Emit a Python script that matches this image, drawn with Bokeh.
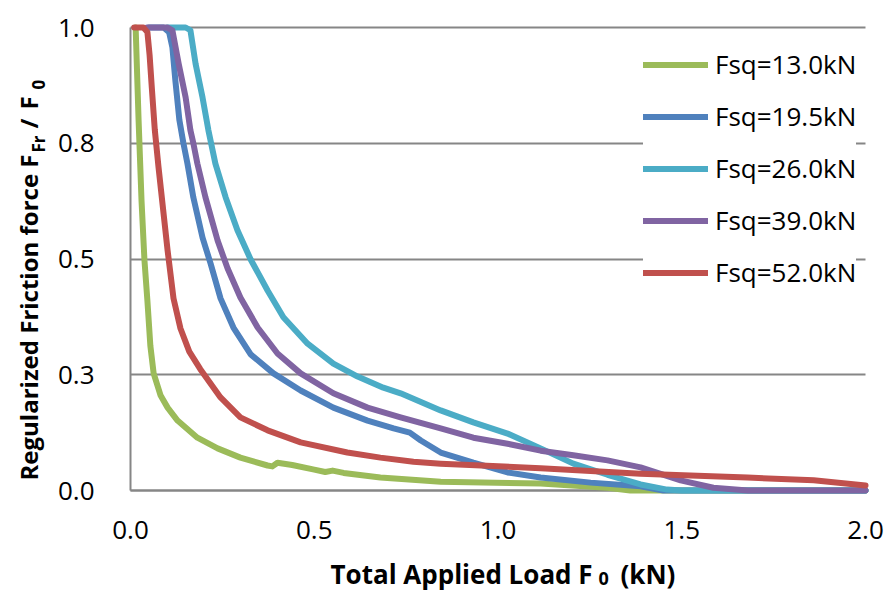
import math
from bokeh.plotting import figure
from bokeh.models import Range1d, FixedTicker, Label, Legend, LegendItem
from bokeh.embed import file_html
from bokeh.resources import INLINE

# ---------------- data ----------------
series_names = ["Fsq=13.0kN", "Fsq=19.5kN", "Fsq=26.0kN", "Fsq=39.0kN", "Fsq=52.0kN"]
series_colors = ["#9BBB59", "#4F81BD", "#4BACC6", "#8064A2", "#C0504D"]

green_x = [0.014, 0.022, 0.030, 0.038, 0.046, 0.054, 0.063, 0.082, 0.101, 0.128, 0.182,
           0.237, 0.299, 0.373, 0.386, 0.400, 0.440, 0.500, 0.530, 0.550, 0.580, 0.680,
           0.844, 1.116, 1.298, 1.360, 2.0]
green_y = [1.0, 0.80, 0.626, 0.497, 0.410, 0.313, 0.253, 0.205, 0.179, 0.151, 0.114,
           0.091, 0.071, 0.054, 0.052, 0.060, 0.055, 0.045, 0.040, 0.043, 0.038, 0.028,
           0.019, 0.015, 0.006, 0.0, 0.0]

blue_x = [0.050, 0.090, 0.105, 0.114, 0.122, 0.133, 0.144, 0.155, 0.171, 0.196, 0.218,
          0.245, 0.280, 0.327, 0.389, 0.463, 0.552, 0.645, 0.716, 0.760, 0.790, 0.844,
          0.933, 1.026, 1.116, 1.252, 1.388, 1.450, 2.0]
blue_y = [1.0, 1.0, 0.990, 0.957, 0.886, 0.800, 0.750, 0.706, 0.633, 0.546, 0.490,
          0.415, 0.352, 0.294, 0.253, 0.216, 0.179, 0.151, 0.134, 0.125, 0.108, 0.082,
          0.060, 0.039, 0.028, 0.017, 0.009, 0.0, 0.0]

cyan_x = [0.100, 0.150, 0.163, 0.177, 0.196, 0.212, 0.231, 0.259, 0.291, 0.327, 0.373,
          0.416, 0.482, 0.552, 0.618, 0.688, 0.735, 0.844, 0.933, 1.026, 1.116, 1.205,
          1.298, 1.388, 1.460, 1.500, 2.0]
cyan_y = [1.0, 1.0, 0.994, 0.922, 0.849, 0.778, 0.706, 0.633, 0.562, 0.499, 0.432,
          0.374, 0.317, 0.274, 0.246, 0.222, 0.210, 0.173, 0.147, 0.123, 0.091, 0.058,
          0.034, 0.013, 0.002, 0.0, 0.0]

purple_x = [0.045, 0.100, 0.114, 0.131, 0.150, 0.163, 0.171, 0.182, 0.204, 0.237, 0.264,
            0.299, 0.346, 0.400, 0.463, 0.552, 0.645, 0.735, 0.844, 0.933, 1.026, 1.116,
            1.205, 1.298, 1.388, 1.497, 1.586, 1.680, 2.0]
purple_y = [1.0, 1.0, 0.994, 0.922, 0.849, 0.778, 0.750, 0.706, 0.633, 0.540, 0.480,
            0.417, 0.352, 0.296, 0.253, 0.210, 0.179, 0.158, 0.134, 0.114, 0.101, 0.086,
            0.076, 0.065, 0.050, 0.022, 0.006, 0.0, 0.0]

red_x = [0.010, 0.035, 0.046, 0.052, 0.058, 0.066, 0.076, 0.090, 0.101, 0.117, 0.136,
         0.160, 0.190, 0.245, 0.299, 0.373, 0.463, 0.590, 0.680, 0.770, 0.844, 1.116,
         1.388, 1.679, 1.859, 2.0]
red_y = [1.0, 1.0, 0.990, 0.940, 0.870, 0.780, 0.700, 0.598, 0.518, 0.415, 0.350,
         0.300, 0.262, 0.201, 0.158, 0.130, 0.104, 0.082, 0.071, 0.062, 0.058, 0.048,
         0.036, 0.028, 0.022, 0.011]

series_x = [green_x, blue_x, cyan_x, purple_x, red_x]
series_y = [green_y, blue_y, cyan_y, purple_y, red_y]

x_ticks = [0.0, 0.5, 1.0, 1.5, 2.0]
x_tick_labels = ["0.0", "0.5", "1.0", "1.5", "2.0"]
y_ticks = [0.0, 0.25, 0.5, 0.75, 1.0]
y_tick_labels = ["0.0", "0.3", "0.5", "0.8", "1.0"]

# ---------------- layout constants (pixels) ----------------
W, H = 886, 590
LEFT, RIGHT, TOP, BOTTOM = 130, 865, 27, 490   # where the data area sits on the canvas
x_lo, x_hi = x_ticks[0], x_ticks[-1]
y_lo, y_hi = y_ticks[0], y_ticks[-1]
xs_per_px = (x_hi - x_lo) / (RIGHT - LEFT)
ys_per_px = (y_hi - y_lo) / (BOTTOM - TOP)

FONT = "Open Sans"
GRAY = "#868686"

# the frame spans the whole canvas; the axes are fixed at the data origin
p = figure(width=W, height=H, output_backend="svg", toolbar_location=None,
           x_range=Range1d(x_lo - LEFT * xs_per_px, x_hi + (W - RIGHT) * xs_per_px),
           y_range=Range1d(y_lo - (H - BOTTOM) * ys_per_px, y_hi + TOP * ys_per_px),
           min_border=0, min_border_left=0, min_border_right=0,
           min_border_top=0, min_border_bottom=0)
p.outline_line_color = None
p.background_fill_color = "white"
p.border_fill_color = "white"

p.xaxis.fixed_location = y_lo
p.yaxis.fixed_location = x_lo
p.xaxis.bounds = (x_lo, x_hi)
p.yaxis.bounds = (y_lo, y_hi)
p.xaxis.ticker = FixedTicker(ticks=x_ticks)
p.yaxis.ticker = FixedTicker(ticks=y_ticks)
p.xaxis.major_label_overrides = {t: l for t, l in zip(x_ticks, x_tick_labels)}
p.yaxis.major_label_overrides = {t: l for t, l in zip(y_ticks, y_tick_labels)}
for ax in (p.xaxis, p.yaxis):
    ax.axis_line_color = GRAY
    ax.axis_line_width = 2
    ax.major_tick_line_color = None
    ax.minor_tick_line_color = None
    ax.major_tick_out = 0
    ax.major_tick_in = 0
    ax.major_label_text_font = FONT
    ax.major_label_text_font_size = "26px"
    ax.major_label_text_color = "black"
    ax.level = "underlay"
p.xaxis.major_label_standoff = 30
p.yaxis.major_label_standoff = 36

p.xgrid.visible = False
ygrid = p.ygrid[0]
ygrid.ticker = FixedTicker(ticks=y_ticks)
ygrid.grid_line_color = GRAY
ygrid.grid_line_width = 2
ygrid.bounds = (y_lo, y_hi)
try:
    ygrid.cross_bounds = (x_lo, x_hi)
except Exception:
    ygrid.visible = False
    p.segment(x0=[x_lo] * len(y_ticks), x1=[x_hi] * len(y_ticks), y0=y_ticks, y1=y_ticks,
              line_color=GRAY, line_width=2, level="underlay")

# lines
items = []
for name, color, xs, ys in zip(series_names, series_colors, series_x, series_y):
    r = p.line(xs, ys, line_color=color, line_width=6, line_join="round", line_cap="round")
    items.append(LegendItem(label=name, renderers=[r]))

legend = Legend(items=items, location=(643, 300), padding=0, spacing=16,
                glyph_width=65, glyph_height=35, label_height=35, label_standoff=7,
                label_text_font=FONT, label_text_font_size="26px",
                label_text_color="black", background_fill_color="white",
                background_fill_alpha=1.0, border_line_color=None)
p.add_layout(legend)

# axis titles (with subscripts)
def px_to_x(px):
    return x_lo + (px - LEFT) * xs_per_px

def py_to_y(py):
    return y_lo + (BOTTOM - py) * ys_per_px

def add_label(text, px, py, size, angle=0.0):
    p.add_layout(Label(x=px_to_x(px), y=py_to_y(py), text=text, angle=angle,
                       text_font=FONT, text_font_size=size, text_font_style="bold",
                       text_color="black", text_align="left", text_baseline="alphabetic"))

add_label("Total Applied Load F", 330, 573, "26px")
add_label("0", 598, 578, "18px")
add_label("(kN)", 620, 573, "26px")

add_label("Regularized Friction force F", 28, 480, "24px", math.pi / 2)
add_label("Fr", 38, 152, "17px", math.pi / 2)
add_label("/", 28, 128, "24px", math.pi / 2)
add_label("F", 28, 109, "24px", math.pi / 2)
add_label("0", 38, 89, "17px", math.pi / 2)

open("out.html", "w").write(file_html(p, INLINE))
